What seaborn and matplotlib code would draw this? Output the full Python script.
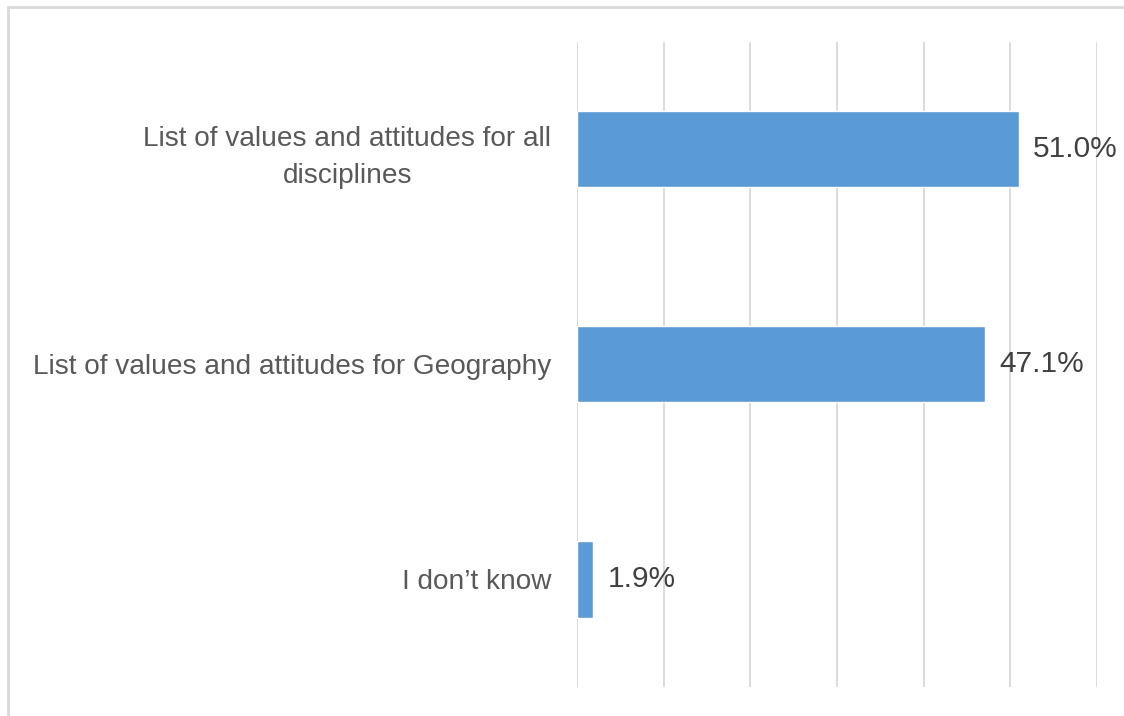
import matplotlib
matplotlib.use("Agg")
import matplotlib.pyplot as plt
from matplotlib.patches import Rectangle
import seaborn as sns
import pandas as pd

categories = ["List of values and attitudes for all\ndisciplines",
              "List of values and attitudes for Geography",
              "I don\u2019t know"]
values = [51.0, 47.1, 1.9]

sns.set_style("white")
plt.rcParams['font.family'] = ['Liberation Sans', 'DejaVu Sans']

df = pd.DataFrame({"category": categories, "value": values})

fig = plt.figure(figsize=(11.24, 7.16), dpi=100)
ax = fig.add_axes([0.5133, 0.0405, 0.4627, 0.9015])

sns.barplot(data=df, x="value", y="category", orient="h", color="#5B9BD5",
            saturation=1, width=0.355, ax=ax, zorder=3)

ax.set_xlim(0, 60)
ax.set_xticks(range(0, 70, 10))
ax.xaxis.grid(True, color="#D9D9D9", linewidth=1.3, zorder=0)
ax.set_axisbelow(True)
ax.tick_params(axis="x", labelbottom=False, length=0)
ax.tick_params(axis="y", length=0, pad=18.5, labelsize=20.2, labelcolor="#595959")
for lab in ax.get_yticklabels():
    lab.set_multialignment("center")
    lab.set_linespacing(1.55)
ax.set_xlabel("")
ax.set_ylabel("")
for s in ax.spines.values():
    s.set_visible(False)

ax.bar_label(ax.containers[0], labels=[f"{v:.1f}%" for v in values],
             padding=10, fontsize=21.5, color="#404040")

fig.patches.append(Rectangle((0.0075, -0.05), 1.1, 1.04, transform=fig.transFigure,
                             fill=False, edgecolor="#D9D9D9", linewidth=2))

fig.savefig("out.png", dpi=100)
